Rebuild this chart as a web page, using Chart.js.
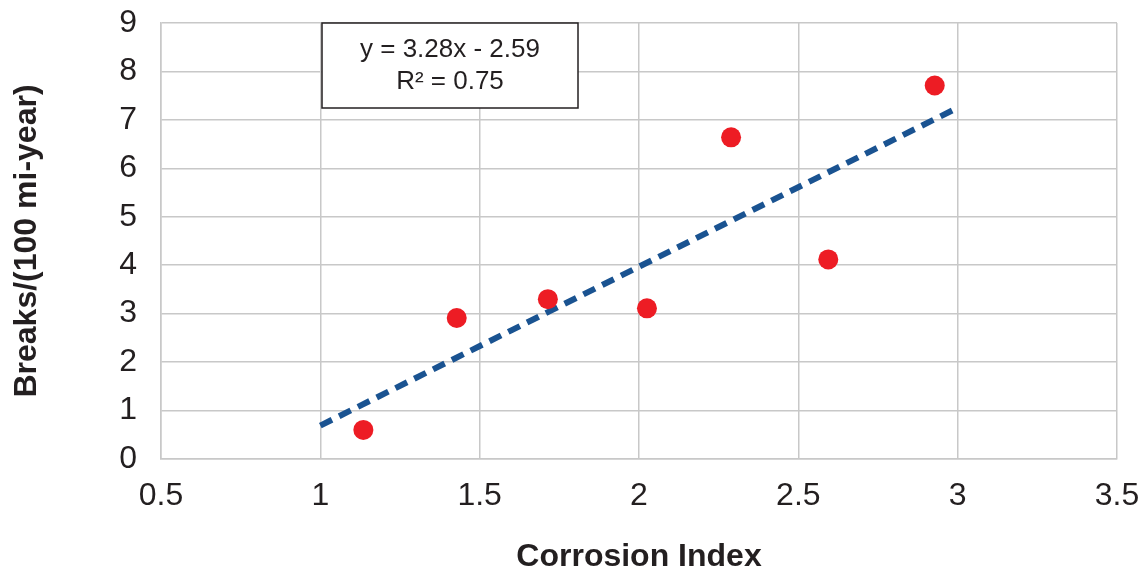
<!DOCTYPE html>
<html>
<head>
<meta charset="utf-8">
<script src="https://cdn.jsdelivr.net/npm/chart.js@4.4.1/dist/chart.umd.min.js"></script>
<style>
  html, body { margin: 0; padding: 0; background: #fff; }
  #wrap { width: 1141px; height: 573px; }
</style>
</head>
<body>
<div id="wrap"><canvas id="chart" width="1141" height="573"></canvas></div>
<script>
// valores
const corrosionIndex = [1.135, 1.428, 1.714, 2.025, 2.289, 2.594, 2.928];
const breaksPer100 = [0.6, 2.91, 3.3, 3.11, 6.64, 4.12, 7.71];
const trendX = [1, 3];
const trendY = [0.69, 7.25];
const eqLines = ['y = 3.28x - 2.59', 'R² = 0.75'];

const COLORS = {
  point: '#ed1c24',
  trend: '#1a5391',
  grid: '#c8c8c8',
  text: '#231f20'
};

const FONT = "'Liberation Sans', Arial, Helvetica, sans-serif";

const eqBox = {
  id: 'eqBox',
  afterDatasetsDraw(chart) {
    const { ctx, chartArea } = chart;
    const x = chartArea.left + 161, y = chartArea.top, w = 256, h = 85;
    ctx.save();
    ctx.fillStyle = '#fff';
    ctx.fillRect(x, y, w, h);
    ctx.strokeStyle = COLORS.text;
    ctx.lineWidth = 1.5;
    ctx.strokeRect(x, y, w, h);
    ctx.fillStyle = COLORS.text;
    ctx.font = '26px ' + FONT;
    ctx.textAlign = 'center';
    ctx.textBaseline = 'middle';
    ctx.fillText(eqLines[0], x + w / 2, y + 27);
    ctx.fillText(eqLines[1], x + w / 2, y + 59);
    ctx.restore();
  }
};

// les ticks ne doivent pas pousser la zone du graphique
function noOverhang(scale) {
  scale.paddingTop = 0;
  scale.paddingBottom = 0;
  scale.paddingLeft = 0;
  scale.paddingRight = 0;
}

new Chart(document.getElementById('chart').getContext('2d'), {
  type: 'scatter',
  data: {
    datasets: [
      {
        label: 'Breaks',
        data: corrosionIndex.map((x, i) => ({ x, y: breaksPer100[i] })),
        backgroundColor: COLORS.point,
        borderWidth: 0,
        pointRadius: 10,
        pointHoverRadius: 10
      },
      {
        label: 'Trend',
        type: 'line',
        data: trendX.map((x, i) => ({ x, y: trendY[i] })),
        borderColor: COLORS.trend,
        borderWidth: 6,
        borderDash: [13, 8],
        pointRadius: 0,
        fill: false
      }
    ]
  },
  options: {
    responsive: false,
    animation: false,
    layout: { padding: { left: 0, right: 24, top: 23, bottom: 0 } },
    plugins: { legend: { display: false }, tooltip: { enabled: false } },
    scales: {
      x: {
        type: 'linear',
        min: 0.5, max: 3.5,
        ticks: {
          stepSize: 0.5, padding: 18, color: COLORS.text,
          font: { size: 32, family: FONT },
          callback: v => String(v)
        },
        grid: { color: COLORS.grid, lineWidth: 1.5, drawTicks: false },
        border: { color: COLORS.grid, width: 1.5 },
        title: {
          display: true, text: 'Corrosion Index', color: COLORS.text,
          font: { size: 32, weight: 'bold', family: FONT, lineHeight: 1 },
          padding: { top: 0, bottom: 0 }
        },
        afterFit(scale) { scale.height = 573 - 459; noOverhang(scale); }
      },
      y: {
        min: 0, max: 9,
        ticks: {
          stepSize: 1, padding: 24, color: COLORS.text,
          font: { size: 32, family: FONT },
          callback: v => String(v)
        },
        grid: { color: COLORS.grid, lineWidth: 1.5, drawTicks: false },
        border: { color: COLORS.grid, width: 1.5 },
        title: {
          display: true, text: 'Breaks/(100 mi-year)', color: COLORS.text,
          font: { size: 32, weight: 'bold', family: FONT, lineHeight: 1 },
          padding: { top: 11, bottom: 0 }
        },
        afterFit(scale) { scale.width = 161; noOverhang(scale); }
      }
    }
  },
  plugins: [eqBox]
});
</script>
</body>
</html>
